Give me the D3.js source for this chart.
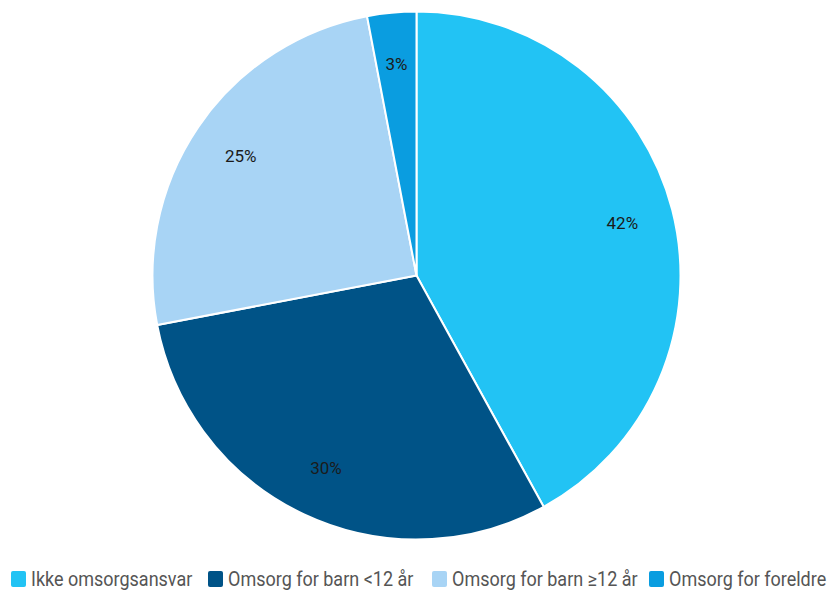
<!DOCTYPE html>
<html>
<head>
<meta charset="utf-8">
<script src="https://cdn.jsdelivr.net/npm/d3@7/dist/d3.min.js"></script>
<style>
  html, body { margin: 0; padding: 0; background: #fff; }
  svg { display: block; font-family: Roboto, "Noto Sans", sans-serif; }
</style>
</head>
<body>
<svg id="chart" width="829" height="592"></svg>
<script>
const categories = ["Ikke omsorgsansvar", "Omsorg for barn <12 år", "Omsorg for barn ≥12 år", "Omsorg for foreldre"];
const values = [42, 30, 25, 3];
const labels = ["42%", "30%", "25%", "3%"];
const colors = ["#22c3f4", "#005387", "#a8d4f5", "#0a9de0"];

const svg = d3.select("#chart");
const cx = 416.5, cy = 275.5, radius = 264;

const data = categories.map((c, i) => ({ name: c, value: values[i], label: labels[i], color: colors[i] }));

const pie = d3.pie().value(d => d.value).sort(null);
const arc = d3.arc().innerRadius(0).outerRadius(radius);
const labelArc = d3.arc().innerRadius(radius * 0.805).outerRadius(radius * 0.805);

const g = svg.append("g").attr("transform", `translate(${cx},${cy})`);
const arcs = pie(data);

g.selectAll("path.slice")
  .data(arcs)
  .join("path")
  .attr("class", "slice")
  .attr("d", arc)
  .attr("fill", d => d.data.color)
  .attr("stroke", "#fff")
  .attr("stroke-width", 2)
  .attr("stroke-linejoin", "round");

g.selectAll("text.pct")
  .data(arcs)
  .join("text")
  .attr("class", "pct")
  .attr("transform", d => `translate(${labelArc.centroid(d)})`)
  .attr("text-anchor", "middle")
  .attr("dy", "0.35em")
  .attr("font-size", 17)
  .attr("fill", "#1b1b1b")
  .text(d => d.data.label);

// Legend along the bottom
const legend = svg.append("g").attr("transform", "translate(0,579)");
const legendX = [11, 208, 432, 649];
const items = legend.selectAll("g.item")
  .data(data)
  .join("g")
  .attr("class", "item")
  .attr("transform", (d, i) => `translate(${legendX[i]},0)`);

items.append("rect")
  .attr("x", 0).attr("y", -8)
  .attr("width", 15).attr("height", 16)
  .attr("rx", 2)
  .attr("fill", d => d.color);

items.append("text")
  .attr("transform", "translate(20,0) scale(0.9,1)")
  .attr("dy", "0.36em")
  .attr("font-size", 20)
  .attr("fill", "#555")
  .text(d => d.name);
</script>
</body>
</html>
